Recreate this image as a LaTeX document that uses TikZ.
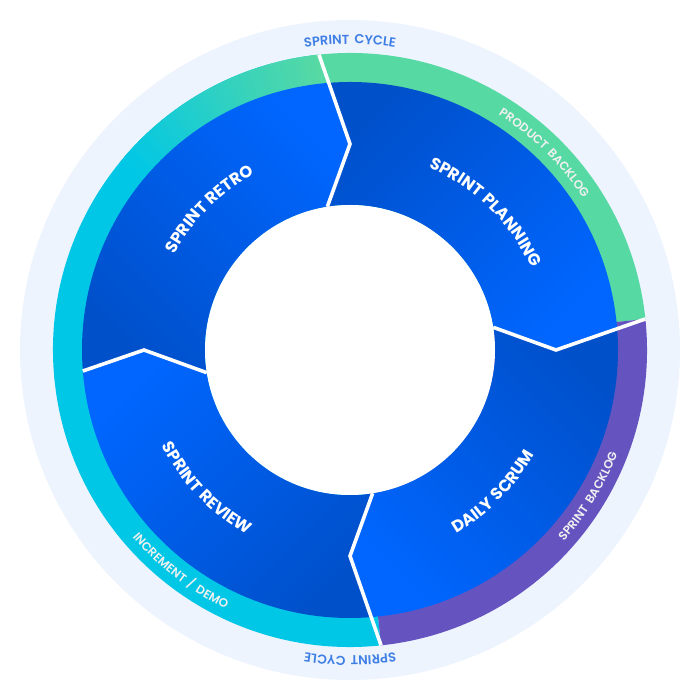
\documentclass[tikz,border=0pt]{standalone}
\usepackage{fontspec}
\setmainfont{Poppins}
\newfontfamily\bigfont{Poppins}[LetterSpace=5]
\newfontfamily\smallfont{Poppins}[UprightFont={* SemiBold},LetterSpace=14]
\usetikzlibrary{decorations.text}
\definecolor{lightring}{HTML}{EEF4FE}
\definecolor{ringgreen}{HTML}{57D9A3}
\definecolor{ringpurple}{HTML}{6554C0}
\definecolor{ringcyan}{HTML}{00C7E6}
\definecolor{bluedark}{HTML}{0050CA}
\definecolor{bluebright}{HTML}{0066FF}
\definecolor{cycleblue}{HTML}{3F7FE4}
\begin{document}
\begin{tikzpicture}[x=1pt,y=1pt,
  divider/.style={draw=white, line width=3.6pt},
  seg/.style={shading=axis, top color=bluebright, bottom color=bluedark, shading angle=#1},
  bigtext/.style={decorate, decoration={text along path, text align=center,
      text={|\bigfont\bfseries\fontsize{16.5}{18}\selectfont\color{white}|#1}}},
  ringtext/.style={decorate, decoration={text along path, text align=center,
      text={|\smallfont\fontsize{12}{13}\selectfont\color{white!94!black}|#1}}},
  cycletext/.style={decorate, decoration={text along path, text align=center,
      text={|\smallfont\fontsize{13}{14}\selectfont\color{cycleblue}|#1}}}
]
\useasboundingbox (-350,-350) rectangle (350,350);
\fill[white] (-350,-350) rectangle (350,350);
% outer light ring
\fill[lightring] (0,0) circle[radius=330];
% coloured ring
\fill[ringcyan] (0,0) -- (96:297) arc[start angle=96, end angle=276, radius=297] -- cycle;
\foreach \i in {0,...,43}{
  \pgfmathtruncatemacro\p{100-100*\i/44}
  \fill[ringgreen!\p!ringcyan] (0,0) -- ({96+\i}:297) arc[start angle={96+\i}, end angle={97.6+\i}, radius=297] -- cycle;
}
\fill[ringgreen] (0,0) -- (96:297) arc[start angle=96, end angle=6, radius=297] -- cycle;
\fill[ringpurple] (0,0) -- (6:297) arc[start angle=6, end angle=-84, radius=297] -- cycle;
% blue segments
\foreach \t/\a in {90/-135, 0/135, -90/45, 180/-45}{
  \pgfmathsetmacro\tb{\t-90}
  \path[seg=\a] ({\t+9}:145) -- (\t:206) -- ({\t+4.5}:268)
     arc[start angle={\t+4.5}, end angle={\tb+4.5}, radius=268]
     -- (\tb:206) -- ({\tb+9}:145)
     arc[start angle={\tb+9}, end angle={\t+9}, radius=145] -- cycle;
}
% inner white circle
\fill[white] (0,0) circle[radius=145];
% dividers
\coordinate (topO) at (96:297);  \coordinate (topT) at (90:206);  \coordinate (topI) at (99:145);
\coordinate (rgtO) at (6:297);   \coordinate (rgtT) at (0:206);   \coordinate (rgtI) at (9:145);
\coordinate (botO) at (-84:297); \coordinate (botT) at (-90:206); \coordinate (botI) at (-81:145);
\coordinate (lftO) at (184.5:268); \coordinate (lftT) at (180:206); \coordinate (lftI) at (189:145);
\draw[divider] (topO) -- (topT) -- (topI);
\draw[divider] (rgtO) -- (rgtT) -- (rgtI);
\draw[divider] (botO) -- (botT) -- (botI);
\draw[divider] (lftO) -- (lftT) -- (lftI);
% segment labels
\path[bigtext={SPRINT PLANNING}] (75.5:199) arc[start angle=75.5, end angle=15.5, radius=199];
\path[bigtext={DAILY SCRUM}] (-74.7:212) arc[start angle=-74.7, end angle=-14.7, radius=212];
\path[bigtext={SPRINT REVIEW}] (194:211) arc[start angle=194, end angle=254, radius=211];
\path[bigtext={SPRINT RETRO}] (165:200) arc[start angle=165, end angle=105, radius=200];
% ring labels
\path[ringtext={PRODUCT BACKLOG}] (75.4:278) arc[start angle=75.4, end angle=15.4, radius=278];
\path[ringtext={SPRINT BACKLOG}] (-61.5:287) arc[start angle=-61.5, end angle=-1.5, radius=287];
\path[ringtext={INCREMENT / DEMO}] (202.5:287) arc[start angle=202.5, end angle=262.5, radius=287];
\path[cycletext={SPRINT CYCLE}] (120:306) arc[start angle=120, end angle=60, radius=306];
\path[cycletext={SPRINT CYCLE}] (-60:306) arc[start angle=-60, end angle=-120, radius=306];
\end{tikzpicture}
\end{document}
